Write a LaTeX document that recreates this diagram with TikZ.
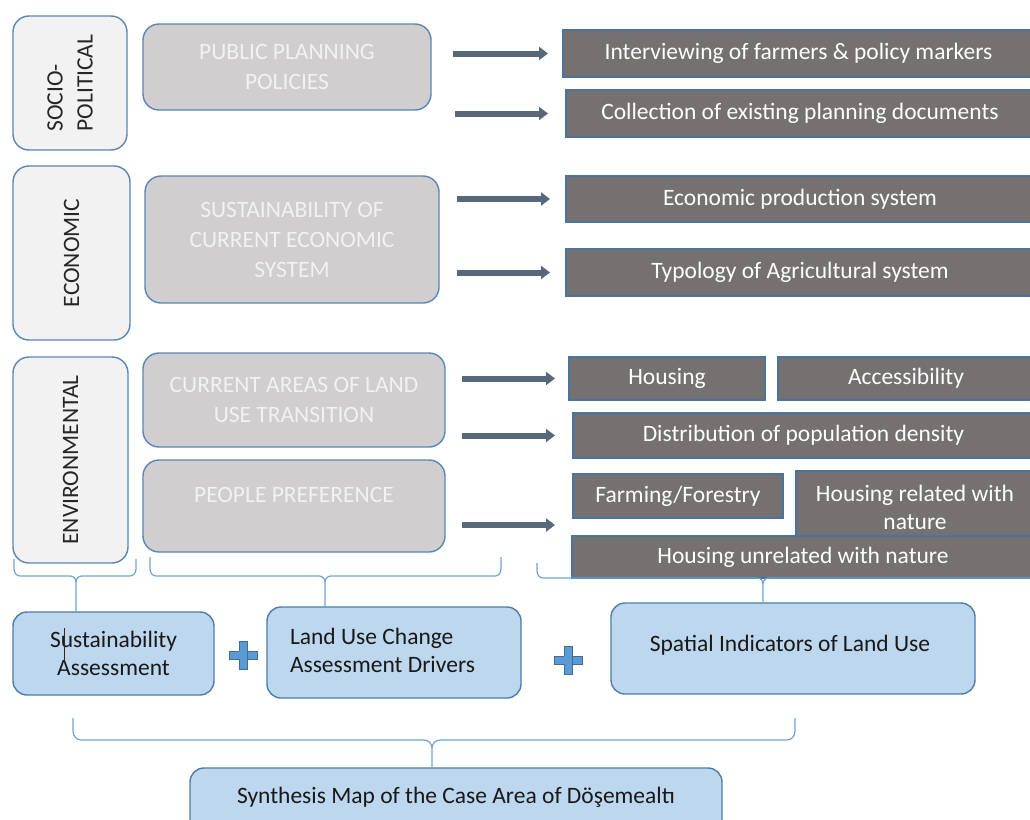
\documentclass[tikz,border=0pt]{standalone}
\usepackage{fontspec}
\setmainfont{Carlito}
\usetikzlibrary{arrows.meta}
\definecolor{bordB}{HTML}{5A86B3}
\definecolor{catfill}{HTML}{F2F2F2}
\definecolor{grayfill}{HTML}{D0CECE}
\definecolor{darkfill}{HTML}{767171}
\definecolor{darkbord}{HTML}{4A74A0}
\definecolor{arrC}{HTML}{56687A}
\definecolor{braceC}{HTML}{6FA3D6}
\definecolor{lbfill}{HTML}{BDD7EE}
\definecolor{lbbord}{HTML}{4F7CA8}
\definecolor{plusC}{HTML}{5B9BD5}
\begin{document}
\begin{tikzpicture}[x=1pt,y=-1pt,
  base/.style={inner sep=0pt, outer sep=0pt, line width=1.4pt, align=center,
    font=\fontsize{23.5}{30}\selectfont},
  catbox/.style={base, draw=bordB, fill=catfill, rounded corners=16pt, rotate=90,
    text=black!85, align=left},
  graybox/.style={base, draw=bordB, fill=grayfill, rounded corners=16pt, text=catfill},
  darkbox/.style={base, draw=darkbord, fill=darkfill, text=white},
  lbbox/.style={base, draw=lbbord, fill=lbfill, rounded corners=14pt, text=black!90,
    font=\fontsize{23.5}{28}\selectfont},
  arr/.style={line width=6pt, draw=arrC, -{Triangle[length=9pt,width=13pt]}},
  brace/.style={draw=braceC, line width=1.2pt},
  plus/.style={draw=plusC!70!black, fill=plusC, line width=0.6pt}
]
\useasboundingbox (0,0) rectangle (1030,819);

% category boxes (rotated)
\node[catbox, minimum width=134pt, minimum height=114pt] (sp) at (70,83) {SOCIO-\\POLITICAL};
\node[catbox, minimum width=174pt, minimum height=117pt] (ec) at (71.5,253) {ECONOMIC};
\node[catbox, minimum width=206pt, minimum height=115pt] (en) at (70.5,460) {ENVIRONMENTAL};

% gray boxes
\node[graybox, minimum width=288pt, minimum height=86pt] (ppp) at (287,67) {PUBLIC PLANNING\\POLICIES};
\node[graybox, minimum width=294pt, minimum height=127pt] (sce) at (292,239.5) {SUSTAINABILITY OF\\CURRENT ECONOMIC\\SYSTEM};
\node[graybox, minimum width=302pt, minimum height=94pt] (cal) at (294,400) {CURRENT AREAS OF LAND\\USE TRANSITION};
\node[graybox, minimum width=302pt, minimum height=92pt] (pp) at (294,506) {};
\node[base, text=catfill] (pptext) at (294,495) {PEOPLE PREFERENCE};

% dark boxes
\node[darkbox, minimum width=471pt, minimum height=47pt] (int) at (798.5,53.5) {Interviewing of farmers \& policy markers};
\node[darkbox, minimum width=468pt, minimum height=47pt] (col) at (800,113.5) {Collection of existing planning documents};
\node[darkbox, minimum width=468pt, minimum height=46pt] (eps) at (800,199) {Economic production system};
\node[darkbox, minimum width=468pt, minimum height=47pt] (typ) at (800,272.5) {Typology of Agricultural system};
\node[darkbox, minimum width=196pt, minimum height=43pt] (hou) at (667,378.5) {Housing};
\node[darkbox, minimum width=256pt, minimum height=43pt] (acc) at (906,378.5) {Accessibility};
\node[darkbox, minimum width=461pt, minimum height=45pt] (dis) at (803.5,435.5) {Distribution of population density};
\node[darkbox, minimum width=210pt, minimum height=44pt] (far) at (678,496) {Farming/Forestry};
\node[darkbox, minimum width=238pt, minimum height=72pt, font=\fontsize{23.5}{28}\selectfont] (hrn) at (915,507) {Housing related with\\nature};
\node[darkbox, minimum width=462pt, minimum height=42pt] (hun) at (803,557) {Housing unrelated with nature};

% arrows
\draw[arr, shorten <=22pt, shorten >=15pt] (ppp.east |- int.west) -- (int.west);
\draw[arr, shorten <=24pt, shorten >=18pt] (ppp.east |- col.west) -- (col.west);
\draw[arr, shorten <=18pt, shorten >=16pt] (sce.east |- eps.west) -- (eps.west);
\draw[arr, shorten <=18pt, shorten >=16pt] (sce.east |- typ.west) -- (typ.west);
\draw[arr, shorten <=17pt, shorten >=14pt] (cal.east |- hou.west) -- (hou.west);
\draw[arr, shorten <=17pt, shorten >=18pt] (cal.east |- dis.west) -- (dis.west);
\coordinate (a7) at (555,525);
\draw[arr, shorten <=17pt] (pp.east |- a7) -- (a7);

% bottom boxes
\node[lbbox, minimum width=201pt, minimum height=83pt] (sa) at (113.5,653.5) {Sustainability\\Assessment};
\node[lbbox, minimum width=254pt, minimum height=91pt] (luc) at (394,652.5) {};
\node[base, anchor=west, align=left, text=black!90, font=\fontsize{23.5}{28}\selectfont] (luctext) at (290,650) {Land Use Change\\Assessment Drivers};
\node[lbbox, minimum width=364pt, minimum height=91pt] (sil) at (793,648.5) {};
\node[base, text=black!90] (siltext) at (790,645) {Spatial Indicators of Land Use};
\node[lbbox, minimum width=532pt, minimum height=70pt] (syn) at (456,803) {};
\node[base, text=black!90] (syntext) at (456,797) {Synthesis Map of the Case Area of Döşemealtı};
\draw[black!70!brown, line width=0.8pt] (64,628) -- (64,662);

% plus signs
\node[plus, minimum width=28pt, minimum height=8pt, inner sep=0pt] (p1h) at (243,655) {};
\node[plus, minimum width=8pt, minimum height=28pt, inner sep=0pt] (p1v) at (243,655) {};
\fill[plusC] (239.3,651.3) rectangle (246.7,658.7);
\node[plus, minimum width=28pt, minimum height=8pt, inner sep=0pt] (p2h) at (568,660) {};
\node[plus, minimum width=8pt, minimum height=28pt, inner sep=0pt] (p2v) at (568,660) {};
\fill[plusC] (564.3,656.3) rectangle (571.7,663.7);

% braces
\coordinate (b1t) at (sa.north -| 76,0);
\draw[brace] (14,559) -- (14,569) to[out=-90,in=180] (20,576) -- (70,576) to[out=0,in=90] (76,582) -- (b1t);
\draw[brace] (136,559) -- (136,569) to[out=-90,in=0] (130,576) -- (82,576) to[out=180,in=90] (76,582);
\coordinate (b2t) at (luc.north -| 325,0);
\draw[brace] (150,557) -- (150,569) to[out=-90,in=180] (156,576) -- (319,576) to[out=0,in=90] (325,582) -- (b2t);
\draw[brace] (501,557) -- (501,569) to[out=-90,in=0] (495,576) -- (331,576) to[out=180,in=90] (325,582);
\coordinate (b3t) at (sil.north -| 763,0);
\draw[brace] (537,563) -- (537,571) to[out=-90,in=180] (543,578) -- (757,578) to[out=0,in=90] (763,584) -- (b3t);
\draw[brace] (763,584) to[out=90,in=180] (769,578) -- (1040,578);
\coordinate (b4t) at (syn.north -| 432,0);
\draw[brace] (73,718) -- (73,731) to[out=-90,in=180] (81,740) -- (424,740) to[out=0,in=90] (432,748) -- (b4t);
\draw[brace] (795,718) -- (795,731) to[out=-90,in=0] (787,740) -- (440,740) to[out=180,in=90] (432,748);
\end{tikzpicture}
\end{document}
